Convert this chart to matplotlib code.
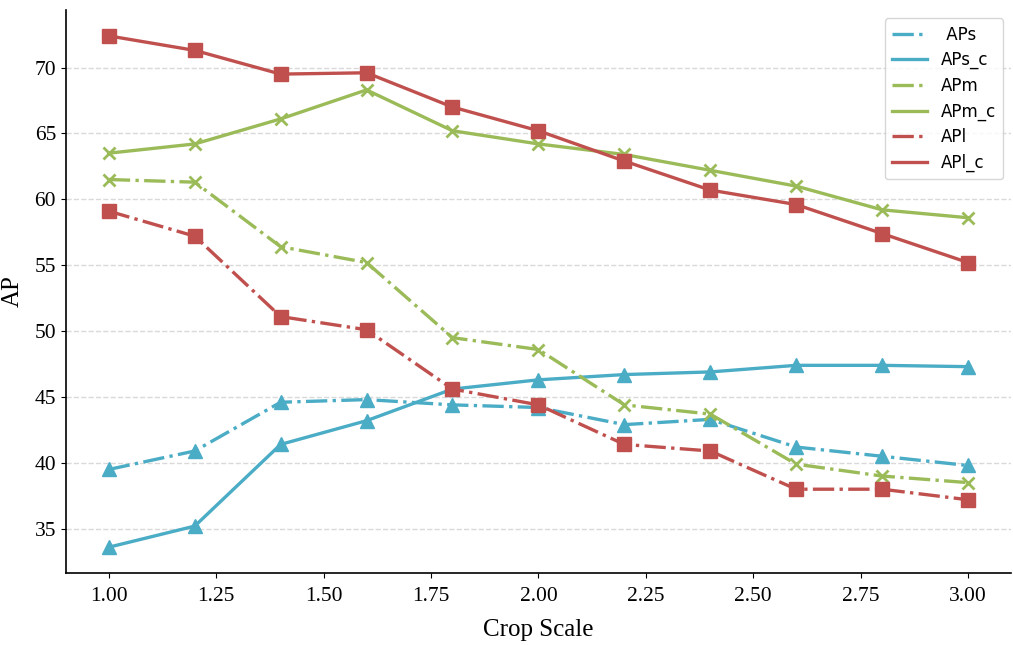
import matplotlib.pyplot as plt

# crop scale vs AP, small/medium/large, with and without crop
scales = [1.0, 1.2, 1.4, 1.6, 1.8, 2.0, 2.2, 2.4, 2.6, 2.8, 3.0]

aps = [39.5, 40.9, 44.6, 44.8, 44.4, 44.2, 42.9, 43.3, 41.2, 40.5, 39.8]
aps_c = [33.6, 35.2, 41.4, 43.2, 45.6, 46.3, 46.7, 46.9, 47.4, 47.4, 47.3]
apm = [61.5, 61.3, 56.4, 55.2, 49.5, 48.6, 44.4, 43.7, 39.9, 39.0, 38.5]
apm_c = [63.5, 64.2, 66.1, 68.3, 65.2, 64.2, 63.4, 62.2, 61.0, 59.2, 58.6]
apl = [59.1, 57.2, 51.1, 50.1, 45.6, 44.4, 41.4, 40.9, 38.0, 38.0, 37.2]
apl_c = [72.4, 71.3, 69.5, 69.6, 67.0, 65.2, 62.9, 60.7, 59.6, 57.4, 55.2]

blue = '#4bacc6'
green = '#9bbb59'
red = '#c0504d'

fig, ax = plt.subplots(figsize=(10.13, 6.45), dpi=100)
fig.subplots_adjust(left=0.065, right=0.998, bottom=0.112, top=0.984)

lw = 2.4
ms = 10
ax.plot(scales, aps, '-.', color=blue, marker='^', lw=lw, ms=ms, label=' APs')
ax.plot(scales, aps_c, '-', color=blue, marker='^', lw=lw, ms=ms, label='APs_c')
ax.plot(scales, apm, '-.', color=green, marker='x', lw=lw, ms=ms - 1, mew=2, label='APm')
ax.plot(scales, apm_c, '-', color=green, marker='x', lw=lw, ms=ms - 1, mew=2, label='APm_c')
ax.plot(scales, apl, '-.', color=red, marker='s', lw=lw, ms=ms - 0.5, label='APl')
ax.plot(scales, apl_c, '-', color=red, marker='s', lw=lw, ms=ms - 0.5, label='APl_c')

ax.set_xticks([1.0, 1.25, 1.5, 1.75, 2.0, 2.25, 2.5, 2.75, 3.0])
ax.set_xticklabels(['%.2f' % v for v in ax.get_xticks()])
ax.set_yticks([35, 40, 45, 50, 55, 60, 65, 70])
ax.tick_params(axis='x', pad=7)

for lab in ax.get_xticklabels() + ax.get_yticklabels():
    lab.set_fontfamily('Liberation Serif')
    lab.set_fontsize(15.5)

ax.set_xlabel('Crop Scale', fontfamily='Liberation Serif', fontsize=18, labelpad=9)
ax.set_ylabel('AP', fontfamily='Liberation Serif', fontsize=18, labelpad=8)

ax.yaxis.grid(True, linestyle='--', color='#d9d9d9', lw=1)
ax.set_axisbelow(True)
ax.spines['top'].set_visible(False)
ax.spines['right'].set_visible(False)
ax.spines['left'].set_linewidth(1.2)
ax.spines['bottom'].set_linewidth(1.2)

leg = ax.legend(loc='upper right', fontsize=12, handlelength=2.1,
                borderpad=0.45, labelspacing=0.45, borderaxespad=0,
                bbox_to_anchor=(0.992, 0.986))
for h in leg.legend_handles:
    h.set_marker('')
leg.get_frame().set_edgecolor('#cccccc')

plt.savefig('out.png')
